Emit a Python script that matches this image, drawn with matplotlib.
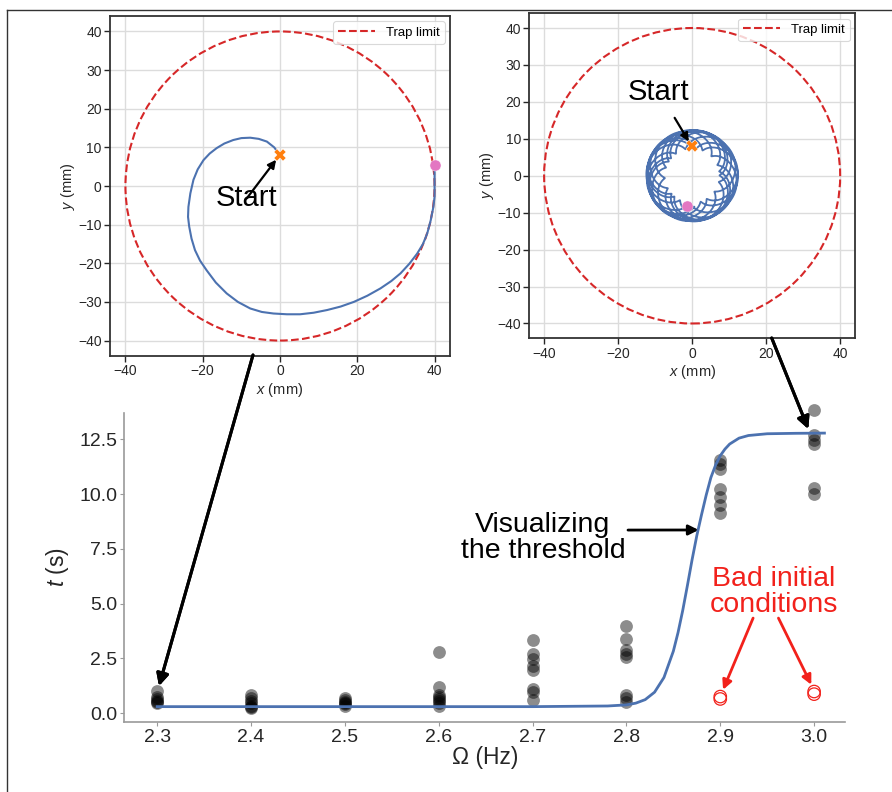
import numpy as np
import matplotlib
matplotlib.use("Agg")
import matplotlib.pyplot as plt
from matplotlib.lines import Line2D
from matplotlib.patches import Circle

plt.rcParams['font.family'] = ['Liberation Sans', 'DejaVu Sans']
plt.rcParams['mathtext.fontset'] = 'custom'
plt.rcParams['mathtext.rm'] = 'Liberation Sans'
plt.rcParams['mathtext.it'] = 'Liberation Sans:italic'

# ----------------------------
# datos
# ----------------------------
trap_radius = 40

# trayectoria panel izquierdo (mm)
spiral_x = [0.0, -1.5, -3.4, -5.5, -7.7, -10.0, -12.1, -14.4, -16.4, -18.2, -19.8, -21.3, -22.4,
            -23.2, -23.7, -23.8, -23.5, -22.9, -22.0, -20.7, -19.0, -16.6, -13.8, -10.9, -7.7,
            -4.7, -1.7, 1.8, 5.2, 8.7, 12.2, 15.7, 19.1, 22.6, 26.0, 28.8, 31.2, 33.5, 35.5,
            37.0, 38.1, 39.0, 39.7, 40.0, 40.0, 40.0]
spiral_y = [8.0, 10.0, 11.5, 12.2, 12.5, 12.4, 11.9, 11.0, 9.8, 8.4, 6.7, 4.3, 1.6,
            -1.9, -5.4, -8.0, -10.5, -13.6, -16.6, -19.3, -21.8, -25.0, -27.8, -30.0, -31.7,
            -32.6, -33.0, -33.2, -33.2, -32.8, -32.1, -31.2, -30.0, -28.4, -26.5, -24.6, -22.6,
            -20.1, -17.5, -15.0, -12.3, -8.9, -5.4, -2.8, 0.5, 5.5]
start_left = (0.0, 8.0)
end_left = (40.0, 5.5)

# trayectoria panel derecho: orbita con epiciclo (parametros)
orbit_r = 9.9        # radio del centro guia (mm)
wobble_r = 2.5       # radio del epiciclo (mm)
wobble_ratio = 3.58  # frecuencia relativa del epiciclo
orbit_turns = 8.475
start_right = (0.0, 8.0)
end_right = (-1.3, -8.2)

# tiempos de escape vs frecuencia
omega_vals = [2.3] * 6 + [2.4] * 7 + [2.5] * 6 + [2.6] * 8 + [2.7] * 8 + [2.8] * 8 + [2.9] * 7 + [3.0] * 6
t_vals = [1.0, 0.75, 0.65, 0.55, 0.5, 0.45,
          0.82, 0.7, 0.55, 0.45, 0.35, 0.3, 0.25,
          0.7, 0.6, 0.5, 0.45, 0.4, 0.35,
          2.78, 1.21, 0.85, 0.75, 0.65, 0.55, 0.45, 0.35,
          3.35, 2.68, 2.46, 2.15, 1.95, 1.12, 0.98, 0.6,
          3.98, 3.40, 2.90, 2.71, 2.58, 0.83, 0.68, 0.53,
          11.55, 11.36, 11.15, 10.22, 9.85, 9.48, 9.15,
          13.84, 12.70, 12.47, 12.27, 10.28, 9.99]
bad_omega = [2.9, 2.9, 3.0, 3.0]
bad_t = [0.76, 0.65, 0.99, 0.87]

# curva de ajuste
fit_omega = [2.3, 2.5, 2.7, 2.78, 2.8, 2.81, 2.82, 2.83, 2.84, 2.85, 2.855, 2.86, 2.865, 2.87,
             2.875, 2.88, 2.885, 2.89, 2.895, 2.9, 2.905, 2.91, 2.92, 2.93, 2.95, 2.98, 3.011]
fit_t = [0.30, 0.30, 0.30, 0.33, 0.38, 0.46, 0.62, 0.96, 1.63, 2.83, 3.68, 4.69, 5.83, 7.01,
         8.10, 9.05, 9.95, 10.75, 11.32, 11.75, 12.05, 12.28, 12.55, 12.67, 12.75, 12.77, 12.78]

blue = '#4c72b0'
red_c = '#d62728'
orange = '#ff7f0e'
pink = '#e377c2'
red_txt = '#f2211b'

fig = plt.figure(figsize=(8.92, 7.92), dpi=100)


def panel(ax):
    ax.set_xlim(-44, 44)
    ax.set_ylim(-44, 44)
    ax.set_xticks([-40, -20, 0, 20, 40])
    ax.set_yticks([-40, -30, -20, -10, 0, 10, 20, 30, 40])
    ax.grid(True, color='#dcdcdc', lw=1.0, zorder=0)
    ax.set_axisbelow(True)
    for s in ax.spines.values():
        s.set_color('#333333')
        s.set_linewidth(1.3)
    ax.tick_params(direction='out', length=4, width=1, colors='#262626', labelsize=10, pad=2)
    ax.tick_params(top=False, right=False)
    ax.set_xlabel('$x$ (mm)', fontsize=10.5, color='#262626', labelpad=2)
    ax.set_ylabel('$y$ (mm)', fontsize=10.5, color='#262626', labelpad=1)
    ax.add_patch(Circle((0, 0), trap_radius, fill=False, ec=red_c, ls='--', lw=1.5, zorder=3))
    h = Line2D([], [], color=red_c, ls='--', lw=1.5)
    leg = ax.legend([h], ['Trap limit'], loc='upper right', fontsize=9.5, frameon=True,
                    fancybox=True, borderpad=0.4, handlelength=2.8, borderaxespad=0.4)
    leg.get_frame().set_edgecolor('#d0d0d0')
    leg.get_frame().set_linewidth(0.8)


# ----------------------------
# panel izquierdo
# ----------------------------
ax1 = fig.add_axes([0.1233, 0.5505, 0.3812, 0.4293])
panel(ax1)
ax1.plot(spiral_x, spiral_y, color=blue, lw=1.5, zorder=4)
ax1.plot(*start_left, marker='X', color=orange, ms=8, mec='white', mew=0.3, zorder=5)
ax1.plot(*end_left, marker='o', color=pink, ms=8, mec='white', mew=0.3, zorder=5)
ax1.annotate('Start', xy=(-1.0, 6.8), xytext=(-8.6, -3.2), fontsize=21, ha='center', va='center',
             arrowprops=dict(arrowstyle='-|>', color='k', lw=1.6, mutation_scale=12,
                             shrinkA=0, shrinkB=0, patchA=None), zorder=6)

# ----------------------------
# panel derecho
# ----------------------------
ax2 = fig.add_axes([0.5934, 0.5729, 0.3651, 0.4104])
panel(ax2)
theta = np.linspace(0, 2 * np.pi * orbit_turns, 10000)
zc = orbit_r * np.exp(1j * (theta + np.pi / 2)) + wobble_r * np.exp(1j * (wobble_ratio * theta - np.pi / 2))
ax2.plot(zc.real, zc.imag, color=blue, lw=1.3, zorder=4)
ax2.plot(*start_right, marker='X', color=orange, ms=8, mec='white', mew=0.3, zorder=5)
ax2.plot(*end_right, marker='o', color=pink, ms=8, mec='white', mew=0.3, zorder=5)
ax2.annotate('Start', xy=(-0.9, 9.3), xytext=(-9.0, 22.8), fontsize=21, ha='center', va='center',
             arrowprops=dict(arrowstyle='-|>', color='k', lw=1.6, mutation_scale=12,
                             shrinkA=8, shrinkB=0), zorder=6)

# ----------------------------
# panel inferior
# ----------------------------
ax3 = fig.add_axes([0.1394, 0.0884, 0.808, 0.3905])
ax3.scatter(omega_vals, t_vals, s=85, color='k', alpha=0.45, linewidths=0, zorder=3, clip_on=False)
ax3.scatter(bad_omega, bad_t, s=80, facecolors='none', edgecolors=red_txt, linewidths=0.9, zorder=3)
ax3.plot(fit_omega, fit_t, color=blue, lw=2, zorder=4)
ax3.set_xlim(2.265, 3.033)
ax3.set_ylim(-0.40, 13.71)
ax3.set_xticks([2.3, 2.4, 2.5, 2.6, 2.7, 2.8, 2.9, 3.0])
ax3.set_yticks([0, 2.5, 5, 7.5, 10, 12.5])
ax3.set_yticklabels(['0.0', '2.5', '5.0', '7.5', '10.0', '12.5'])
for s in ['top', 'right']:
    ax3.spines[s].set_visible(False)
for s in ['left', 'bottom']:
    ax3.spines[s].set_color('#9a9a9a')
    ax3.spines[s].set_linewidth(1.2)
ax3.tick_params(direction='out', length=3, width=0.8, color='#9a9a9a', labelcolor='#262626',
                labelsize=14, pad=2)
ax3.set_xlabel('Ω (Hz)', fontsize=16.5, color='#262626', labelpad=0)
ax3.set_ylabel('$t$ (s)', fontsize=16.5, color='#262626', labelpad=6)

ax3.annotate('Visualizing\nthe threshold', xy=(2.877, 8.36), xytext=(2.711, 8.0),
             fontsize=20.5, ha='center', va='center', multialignment='center', linespacing=1.0,
             arrowprops=dict(arrowstyle='-|>', color='k', lw=2, mutation_scale=15,
                             shrinkA=0, shrinkB=0, relpos=(1.0, 0.65)))
ax3.text(2.957, 5.55, 'Bad initial\nconditions', fontsize=20.5, color=red_txt, ha='center',
         va='center', linespacing=1.0)
for xy, xyt in [((2.903, 1.07), (2.935, 4.34)), ((2.997, 1.30), (2.962, 4.34))]:
    ax3.annotate('', xy=xy, xytext=xyt,
                 arrowprops=dict(arrowstyle='-|>', color=red_txt, lw=2, mutation_scale=14,
                                 shrinkA=0, shrinkB=0))

# flechas entre paneles (pixeles de figura)
for p0, p1 in [((253, 437), (159, 106)), ((771.7, 454), (808.3, 363))]:
    fig.add_artist(plt.annotate('', xy=p1, xytext=p0, xycoords='figure pixels',
                                textcoords='figure pixels',
                                arrowprops=dict(arrowstyle='-|>', color='k', lw=2.2,
                                                mutation_scale=18, shrinkA=0, shrinkB=0)))

# marco
fig.add_artist(Line2D([7 / 892, 1.0], [1 - 10 / 792, 1 - 10 / 792], color='#333333', lw=1,
                      transform=fig.transFigure))
fig.add_artist(Line2D([7 / 892, 7 / 892], [0, 1 - 10 / 792], color='#333333', lw=1,
                      transform=fig.transFigure))

fig.savefig('out.png', dpi=100)
